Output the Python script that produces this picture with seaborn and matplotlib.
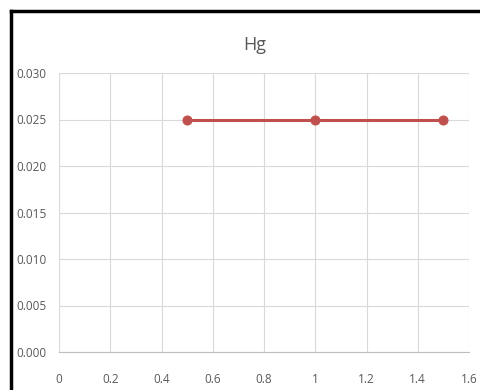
import matplotlib
matplotlib.use("Agg")
import matplotlib.pyplot as plt
import seaborn as sns
import pandas as pd
from matplotlib.lines import Line2D

x_vals = [0.5, 1.0, 1.5]
hg_vals = [0.025, 0.025, 0.025]
x_ticks = [0, 0.2, 0.4, 0.6, 0.8, 1.0, 1.2, 1.4, 1.6]
x_tick_labels = ["0", "0.2", "0.4", "0.6", "0.8", "1", "1.2", "1.4", "1.6"]
y_ticks = [0.000, 0.005, 0.010, 0.015, 0.020, 0.025, 0.030]
y_tick_labels = ["0.000", "0.005", "0.010", "0.015", "0.020", "0.025", "0.030"]

sns.set_style("white")
plt.rcParams['font.family'] = ['Open Sans', 'DejaVu Sans']

df = pd.DataFrame({"x": x_vals, "Hg": hg_vals})

fig = plt.figure(figsize=(4.8, 3.9), dpi=100)
ax = fig.add_axes([59/480, 1-352/390, (469-59)/480, (352-73)/390])

sns.lineplot(data=df, x="x", y="Hg", ax=ax, color="#C0504D", linewidth=2.2,
             marker="o", markersize=6.5, markeredgecolor="#C0504D")

ax.set_xlim(0, 1.6)
ax.set_ylim(0, 0.030)
ax.set_xticks(x_ticks)
ax.set_xticklabels(x_tick_labels)
ax.set_yticks(y_ticks)
ax.set_yticklabels(y_tick_labels)
ax.grid(True, color="#D9D9D9", linewidth=0.8)
ax.set_axisbelow(True)
for s in ["top", "right", "left"]:
    ax.spines[s].set_visible(False)
ax.spines["bottom"].set_color("#BFBFBF")
ax.spines["bottom"].set_linewidth(0.8)
ax.tick_params(axis="both", length=0, labelsize=8.5, labelcolor="#595959")
ax.tick_params(axis="y", pad=9)
ax.tick_params(axis="x", pad=15)
ax.set_xlabel("")
ax.set_ylabel("")

fig.text(255/480, 1-45/390, "Hg", ha="center", va="center", fontsize=13, color="#595959")

# black frame (left and top visible)
fig.add_artist(Line2D([11/480, 11/480], [0, 1-11/390], color="black", linewidth=2.5,
                      transform=fig.transFigure, solid_capstyle="projecting"))
fig.add_artist(Line2D([11/480, 1], [1-11/390, 1-11/390], color="black", linewidth=2.5,
                      transform=fig.transFigure, solid_capstyle="projecting"))

fig.savefig("out.png", dpi=100, facecolor="white")
